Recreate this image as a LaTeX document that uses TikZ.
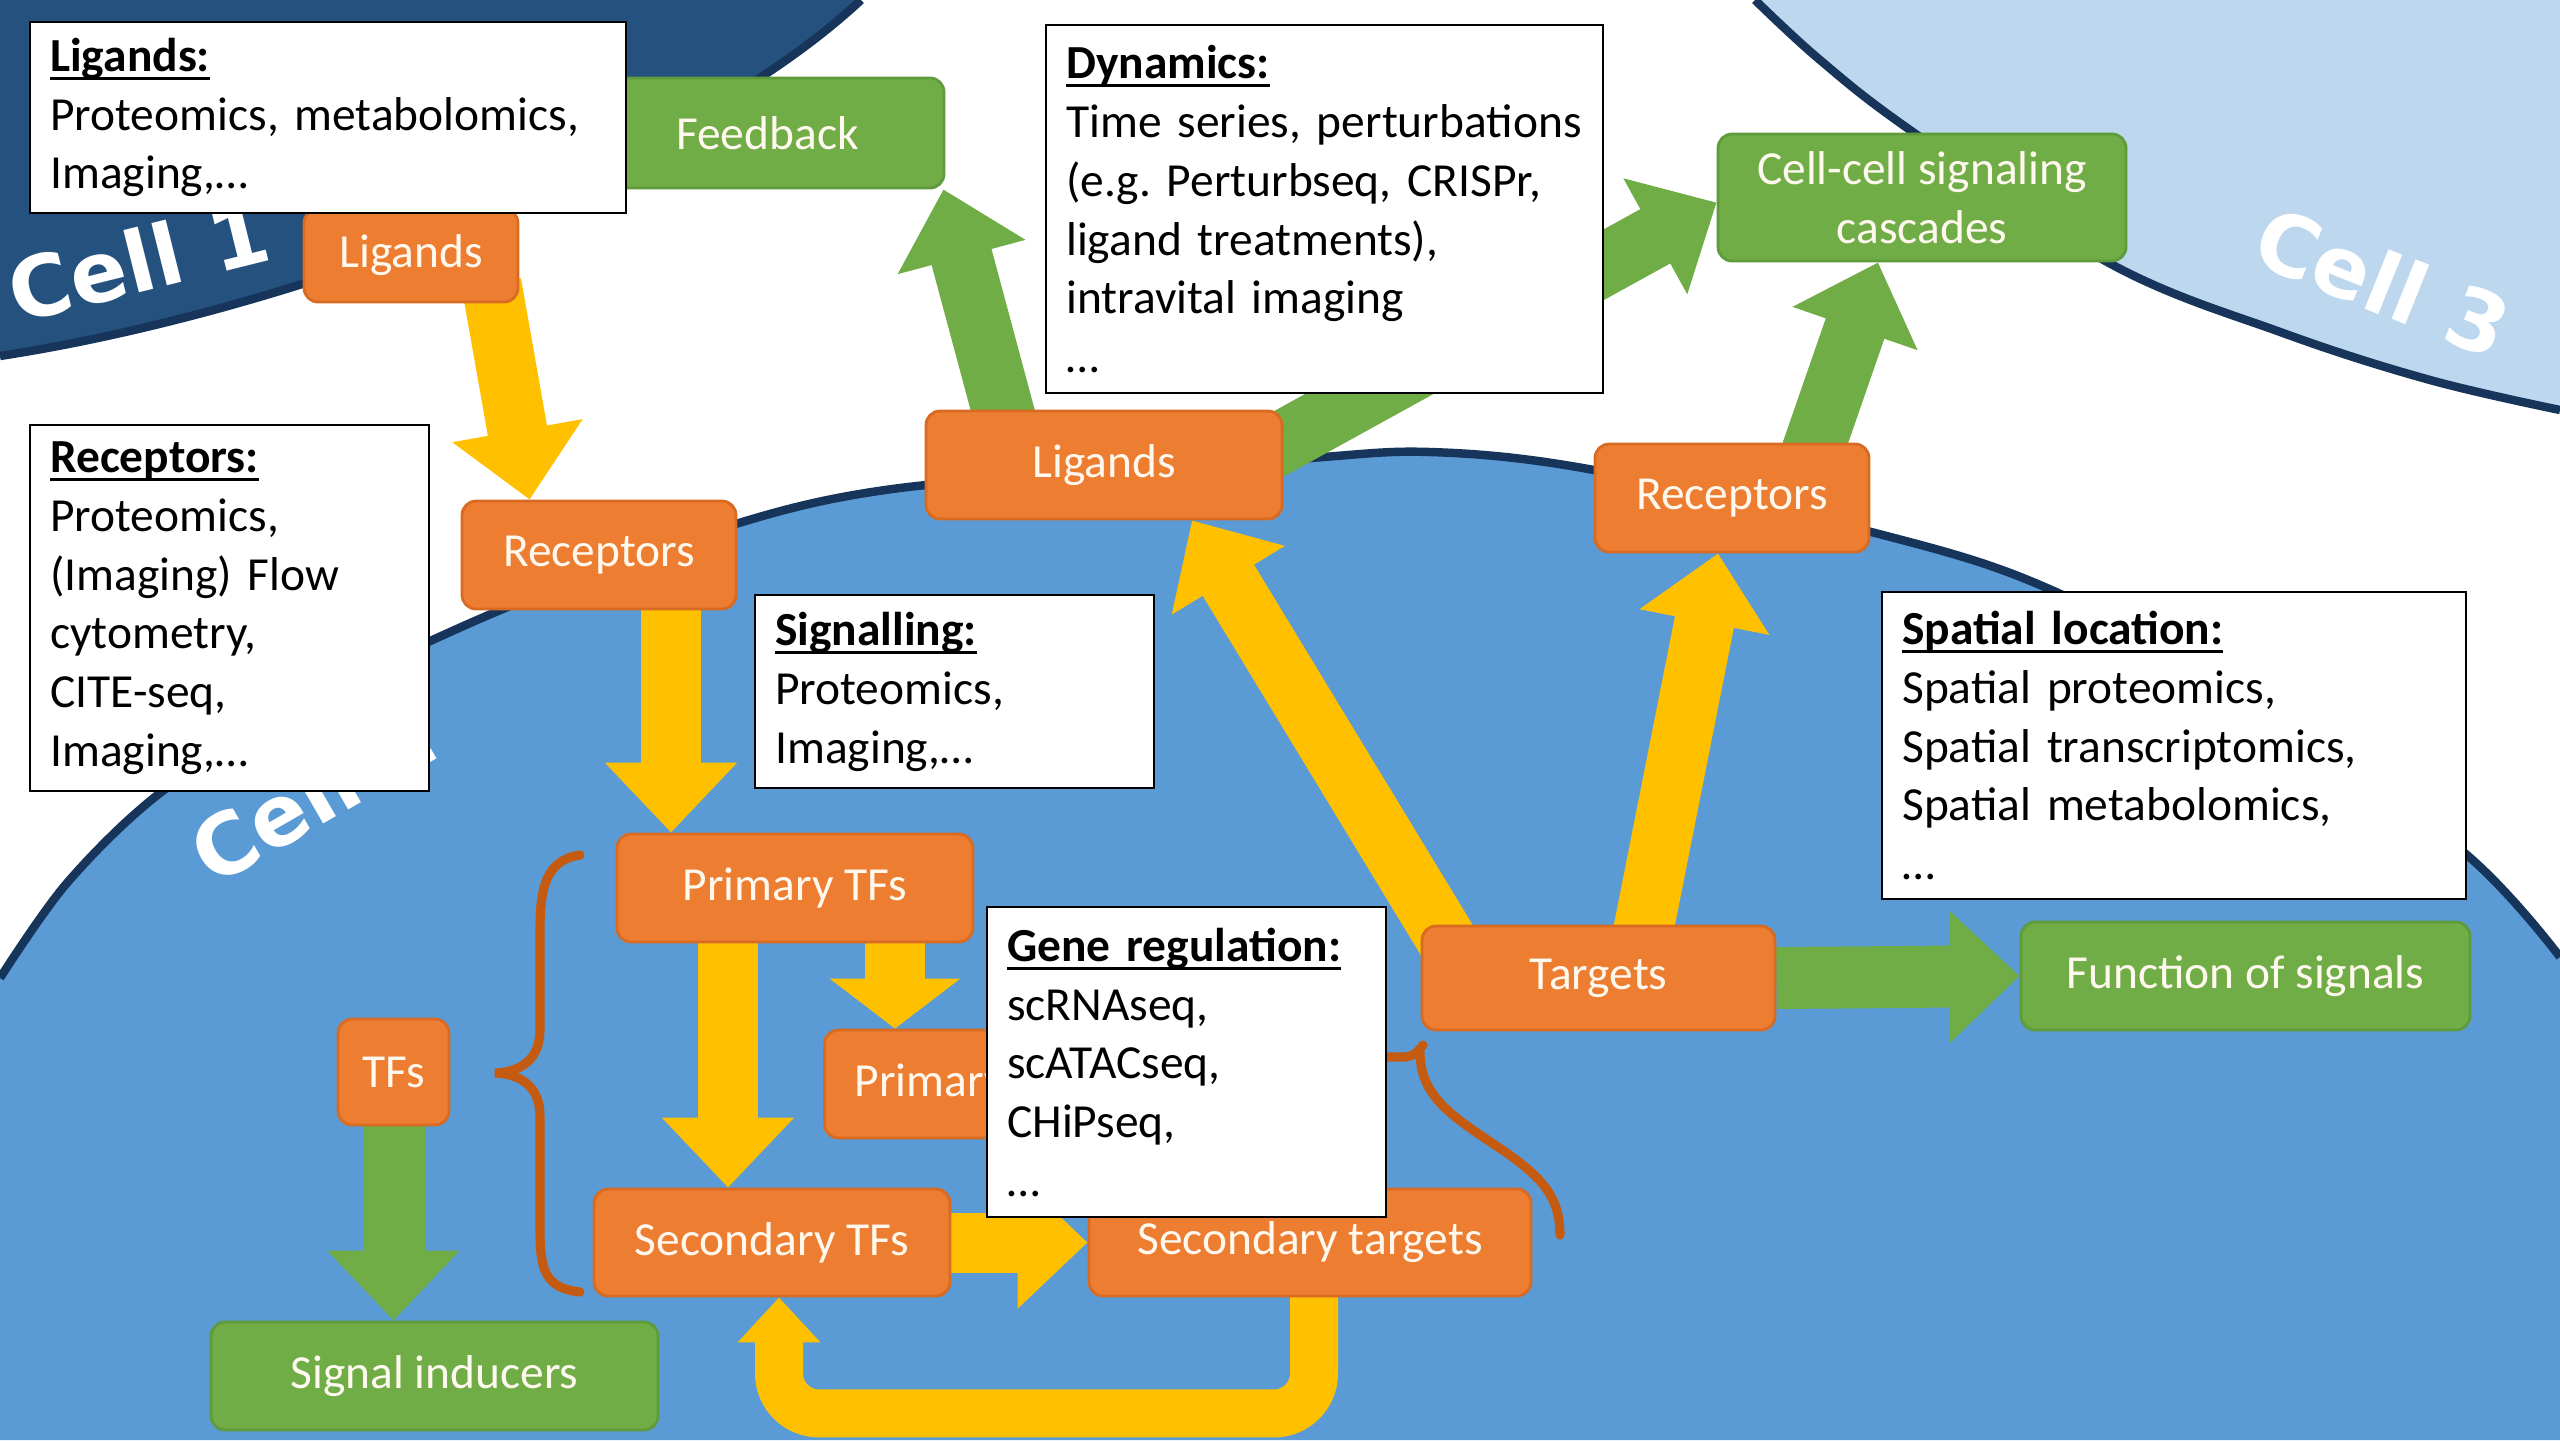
\documentclass[tikz,border=0pt]{standalone}
\usepackage{fontspec}
\setmainfont{Carlito}
\newfontfamily\cellfont{DejaVu Sans}
\usetikzlibrary{arrows.meta,calc}
\pgfdeclarelayer{fond}
\pgfdeclarelayer{fleches}
\pgfsetlayers{fond,fleches,main}
\definecolor{orangeF}{HTML}{ED7D31}
\definecolor{orangeD}{HTML}{D86A22}
\definecolor{vertF}{HTML}{70AD47}
\definecolor{vertD}{HTML}{5F9A3B}
\definecolor{jaune}{HTML}{FFC000}
\definecolor{cellA}{HTML}{24517E}
\definecolor{cellB}{HTML}{5B9BD5}
\definecolor{cellC}{HTML}{BDD7EE}
\definecolor{bord}{HTML}{17355A}
\definecolor{brun}{HTML}{C55A11}
\definecolor{txtbox}{HTML}{FFF8EE}
% titre souligne
\newcommand\titre[1]{\setbox0\hbox{\textbf{#1}}\rlap{\textbf{#1}}\rule[-2.4pt]{\wd0}{0.9pt}}
\frenchspacing

\begin{document}
\begin{tikzpicture}[
  every node/.style={font=\fontsize{13.5}{16.7}\selectfont},
  obox/.style={draw=orangeD, fill=orangeF, text=txtbox, rounded corners=4pt, line width=0.8pt, inner sep=0pt},
  gbox/.style={draw=vertD, fill=vertF, text=txtbox, rounded corners=4pt, line width=0.8pt, inner sep=0pt, align=center},
  infobox/.style={draw=black, fill=white, line width=0.7pt, anchor=north west, align=left, inner xsep=0.2cm, inner ysep=0pt},
  yarrow/.style={draw=jaune, line width=0.6cm, -{Triangle[width=1.28cm,length=0.7cm]}},
  garrow/.style={draw=vertF, line width=0.62cm, -{Triangle[width=1.28cm,length=0.7cm]}},
  accolade/.style={draw=brun, line width=2.6pt, line cap=round},
  celltxt/.style={text=white, font=\cellfont\bfseries\fontsize{24}{28}\selectfont, inner sep=0pt}
]
\useasboundingbox (0,0) rectangle (25.6,-14.4);

% Les trois cellules
\begin{pgfonlayer}{fond}
\fill[white] (0,0) rectangle (25.6,-14.4);
\fill[cellA] (0,0) -- (8.61,0) .. controls (6.9,-1.6) and (3.0,-3.1) .. (0,-3.56) -- cycle;
\draw[bord, line width=2.4pt] (8.61,0) .. controls (6.9,-1.6) and (3.0,-3.1) .. (0,-3.56);
\fill[cellC] plot[smooth, tension=0.6] coordinates {(17.55,0) (18.2,-0.6) (19.1,-1.3) (21.09,-2.63) (22.83,-3.33) (24.3,-3.8) (25.6,-4.1)} -- (25.6,0) -- cycle;
\draw[bord, line width=2.4pt] plot[smooth, tension=0.6] coordinates {(17.55,0) (18.2,-0.6) (19.1,-1.3) (21.09,-2.63) (22.83,-3.33) (24.3,-3.8) (25.6,-4.1)};
\fill[cellB] plot[smooth, tension=0.55] coordinates {(0,-9.78) (0.67,-8.83) (1.6,-7.93) (2.9,-7.1) (4.91,-6.14) (7.0,-5.35) (9.0,-4.88) (12.83,-4.6) (14.3,-4.52) (15.94,-4.7) (18.79,-5.34) (20.47,-5.88) (22.6,-7.0) (24.67,-8.55) (25.6,-9.57)} -- (25.6,-14.4) -- (0,-14.4) -- cycle;
\draw[bord, line width=2.4pt] plot[smooth, tension=0.55] coordinates {(0,-9.78) (0.67,-8.83) (1.6,-7.93) (2.9,-7.1) (4.91,-6.14) (7.0,-5.35) (9.0,-4.88) (12.83,-4.6) (14.3,-4.52) (15.94,-4.7) (18.79,-5.34) (20.47,-5.88) (22.6,-7.0) (24.67,-8.55) (25.6,-9.57)};
\node[celltxt, rotate=14] (c1) at (1.38,-2.61) {Cell 1};
\node[celltxt, rotate=30] (c2) at (3.13,-7.94) {Cell 2};
\node[celltxt, rotate=-22] (c3) at (23.83,-2.82) {Cell 3};
\end{pgfonlayer}

% boites oranges
\node[obox, minimum width=2.14cm, minimum height=0.93cm] (lig1) at (4.11,-2.555) {Ligands};
\node[obox, minimum width=2.74cm, minimum height=1.08cm] (rec2) at (5.99,-5.55) {Receptors};
\node[obox, minimum width=3.56cm, minimum height=1.08cm] (lig2) at (11.04,-4.65) {Ligands};
\node[obox, minimum width=2.74cm, minimum height=1.08cm] (rec3) at (17.32,-4.98) {Receptors};
\node[obox, minimum width=3.56cm, minimum height=1.08cm] (ptf) at (7.95,-8.88) {Primary TFs};
\node[obox, minimum width=3.56cm, minimum height=1.08cm, anchor=west] (ptg) at (8.23,-10.84) {Primary targets};
\node[obox, minimum width=3.56cm, minimum height=1.07cm] (stf) at (7.72,-12.425) {Secondary TFs};
\node[obox, minimum width=4.42cm, minimum height=1.07cm] (stg) at (13.10,-12.425) {Secondary targets};
\node[obox, minimum width=3.53cm, minimum height=1.04cm] (tgt) at (15.985,-9.78) {Targets};
\node[obox, minimum width=1.11cm, minimum height=1.06cm] (tfs) at (3.935,-10.72) {TFs};

% boites vertes
\node[gbox, minimum width=3.53cm, minimum height=1.10cm] (fb) at (7.675,-1.33) {Feedback};
\node[gbox, minimum width=4.08cm, minimum height=1.27cm] (ccs) at (19.22,-1.975) {Cell-cell signaling\\cascades};
\node[gbox, minimum width=4.49cm, minimum height=1.08cm] (fos) at (22.455,-9.76) {Function of signals};
\node[gbox, minimum width=4.47cm, minimum height=1.08cm] (sig) at (4.345,-13.76) {Signal inducers};

% fleches
\begin{pgfonlayer}{fleches}
\draw[yarrow] ([xshift=-0.28cm,yshift=0.2cm]lig1.south east) -- ([xshift=0.69cm]rec2.north west);
\draw[yarrow] ([xshift=0.72cm,yshift=0.1cm]rec2.south) -- ([xshift=0.72cm]rec2.south |- ptf.north);
\draw[yarrow] ([xshift=-0.67cm]ptf.south) -- ([xshift=-0.67cm]ptf.south |- stf.north);
\draw[yarrow, -{Triangle[width=1.28cm,length=0.5cm]}] ([xshift=1cm]ptf.south) -- ([xshift=1cm]ptf.south |- ptg.north);
\draw[yarrow] (stf.east) -- (stg.west);
\draw[yarrow, line width=0.48cm, rounded corners=0.4cm, -{Triangle[width=0.8cm,length=0.45cm]}] ([xshift=0.04cm,yshift=0.1cm]stg.south) -- ++(0,-1.26) -| ([xshift=0.07cm]stf.south);
\draw[yarrow] ([xshift=0.35cm,yshift=-0.3cm]tgt.north west) -- ([xshift=0.88cm]lig2.south);
\draw[yarrow] ([xshift=0.42cm,yshift=-0.2cm]tgt.north) -- ([xshift=-0.14cm]rec3.south);
\draw[garrow] ([xshift=0.86cm,yshift=-0.3cm]lig2.north west) -- ([xshift=-0.02cm]fb.south east);
\draw[garrow] ([xshift=-0.15cm,yshift=-0.4cm]lig2.north east) -- ([yshift=-0.05cm]ccs.west);
\draw[garrow] ([xshift=0.8cm,yshift=-0.1cm]rec3.north) -- ([xshift=-0.44cm]ccs.south);
\draw[garrow] (tgt.east) -- (fos.west);
\draw[garrow] (tfs.south) -- (tfs.south |- sig.north);
% accolades
\draw[accolade] (5.80,-8.55) .. controls (5.45,-8.6) and (5.40,-8.9) .. (5.40,-9.3) -- (5.40,-10.3) .. controls (5.40,-10.6) and (5.2,-10.72) .. (4.95,-10.73) .. controls (5.2,-10.74) and (5.40,-10.86) .. (5.40,-11.16) -- (5.40,-12.3) .. controls (5.40,-12.7) and (5.45,-12.88) .. (5.80,-12.92);
\draw[accolade] (13.6,-10.57) -- (14.05,-10.57) .. controls (14.15,-10.55) .. (14.23,-10.45);
\draw[accolade] (14.2,-10.52) .. controls (14.2,-10.95) and (14.5,-11.15) .. (14.95,-11.45) .. controls (15.4,-11.75) and (15.6,-11.95) .. (15.6,-12.35);
\end{pgfonlayer}

% boites de texte
\node[infobox, text width=5.56cm, minimum height=1.91cm] (iLig) at (0.29,-0.21) {\titre{Ligands:}\\Proteomics, metabolomics,\\Imaging,…};
\node[infobox, text width=3.59cm, minimum height=3.66cm] (iRec) at (0.29,-4.24) {\titre{Receptors:}\\Proteomics,\\(Imaging) Flow\\cytometry,\\CITE-seq,\\Imaging,…};
\node[infobox, text width=5.17cm, minimum height=3.68cm] (iDyn) at (10.45,-0.24) {\titre{Dynamics:}\\Time series, perturbations\\(e.g. Perturbseq, CRISPr,\\ligand treatments),\\intravital imaging\\…};
\node[infobox, text width=3.59cm, minimum height=1.93cm] (iSig) at (7.54,-5.94) {\titre{Signalling:}\\Proteomics,\\Imaging,…};
\node[infobox, text width=3.59cm, minimum height=3.10cm] (iGene) at (9.86,-9.06) {\titre{Gene regulation:}\\scRNAseq,\\scATACseq,\\CHiPseq,\\…};
\node[infobox, text width=5.44cm, minimum height=3.07cm] (iSpa) at (18.81,-5.91) {\titre{Spatial location:}\\Spatial proteomics,\\Spatial transcriptomics,\\Spatial metabolomics,\\…};
\end{tikzpicture}
\end{document}
